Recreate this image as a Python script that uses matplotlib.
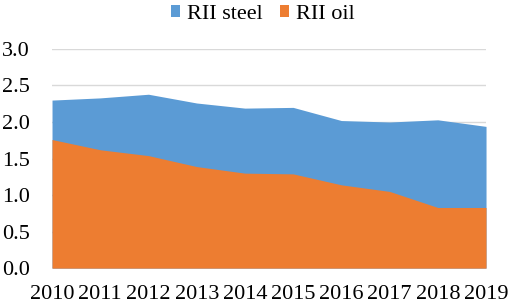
import matplotlib.pyplot as plt
import numpy as np

years = [2010, 2011, 2012, 2013, 2014, 2015, 2016, 2017, 2018, 2019]
rii_steel = [2.30, 2.33, 2.38, 2.26, 2.19, 2.20, 2.02, 2.00, 2.03, 1.94]
rii_oil = [1.76, 1.62, 1.54, 1.39, 1.30, 1.29, 1.14, 1.05, 0.83, 0.83]
yticks = [0.0, 0.5, 1.0, 1.5, 2.0, 2.5, 3.0]

blue = '#5b9bd5'
orange = '#ed7d31'

plt.rcParams['font.family'] = ['Liberation Serif', 'DejaVu Serif']

fig = plt.figure(figsize=(5.1, 3.04), dpi=100)
ax = fig.add_axes([0.102, 0.118, 0.851, 0.721])

ax.fill_between(years, 0, rii_steel, color=blue, linewidth=0, label='RII steel', zorder=2)
ax.fill_between(years, 0, rii_oil, color=orange, linewidth=0, label='RII oil', zorder=3)

ax.set_xlim(years[0], years[-1])
ax.set_ylim(0, 3)
ax.set_yticks(yticks)
ax.set_yticklabels(['{:.1f}'.format(v) for v in yticks], fontsize=16)
ax.set_xticks(years)
ax.set_xticklabels([str(y) for y in years], fontsize=16)
ax.tick_params(axis='x', length=0, pad=12)
ax.tick_params(axis='y', length=0, pad=16)
ax.yaxis.grid(True, color='#d9d9d9', linewidth=1, zorder=1)
ax.set_axisbelow(True)
for s in ax.spines.values():
    s.set_visible(False)

fig.legend(loc='upper center', bbox_to_anchor=(0.515, 1.05), ncol=2, frameon=False,
           fontsize=16, handlelength=0.42, handleheight=0.42, handletextpad=0.3,
           columnspacing=0.8)

fig.savefig('out.png', dpi=100)
